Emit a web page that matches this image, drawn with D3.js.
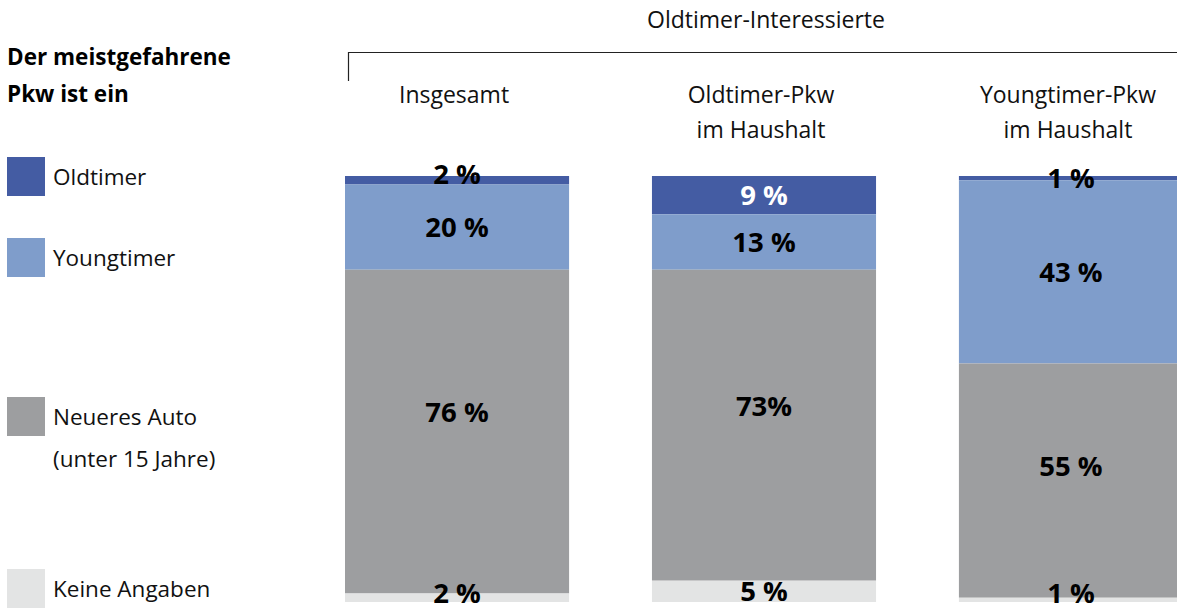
<!DOCTYPE html>
<html>
<head>
<meta charset="utf-8">
<script src="https://cdn.jsdelivr.net/npm/d3@7"></script>
<style>
  body { margin: 0; background: #fff; }
  svg { display: block; font-family: "Open Sans", Lato, sans-serif; }
</style>
</head>
<body>
<svg id="chart" width="1177" height="609"></svg>
<script>
// groups (columns) and their header lines
const groups = ["Insgesamt", "Oldtimer-Pkw im Haushalt", "Youngtimer-Pkw im Haushalt"];
const groupLines = [["Insgesamt"], ["Oldtimer-Pkw", "im Haushalt"], ["Youngtimer-Pkw", "im Haushalt"]];

// segments, top to bottom
const segments = ["Oldtimer", "Youngtimer", "Neueres Auto", "Keine Angaben"];
const legendLines = [["Oldtimer"], ["Youngtimer"], ["Neueres Auto", "(unter 15 Jahre)"], ["Keine Angaben"]];

// percentages per group
const oldtimer = [2, 9, 1];
const youngtimer = [20, 13, 43];
const neueres = [76, 73, 55];
const keine = [2, 5, 1];

// label texts as printed
const labelTexts = [
  ["2 %", "9 %", "1 %"],
  ["20 %", "13 %", "43 %"],
  ["76 %", "73%", "55 %"],
  ["2 %", "5 %", "1 %"]
];

const colors = ["#445ca3", "#7f9dcb", "#9d9ea0", "#e3e4e4"];

const svg = d3.select("#chart");

const rows = groups.map((g, i) => ({
  group: g,
  "Oldtimer": oldtimer[i],
  "Youngtimer": youngtimer[i],
  "Neueres Auto": neueres[i],
  "Keine Angaben": keine[i]
}));

const stack = d3.stack().keys(segments);
const series = stack(rows);

const x = d3.scaleBand()
  .domain(groups)
  .range([345, 1183])
  .paddingInner(0.27)
  .paddingOuter(0);

const y = d3.scaleLinear()
  .domain([0, 100])
  .range([176, 602]);

// bars
series.forEach((s, si) => {
  svg.append("g")
    .selectAll("rect")
    .data(s)
    .enter()
    .append("rect")
    .attr("x", d => x(d.data.group))
    .attr("y", d => y(d[0]))
    .attr("width", x.bandwidth())
    .attr("height", d => y(d[1]) - y(d[0]))
    .attr("fill", colors[si]);
});

// value labels
series.forEach((s, si) => {
  svg.append("g")
    .selectAll("text")
    .data(s)
    .enter()
    .append("text")
    .attr("x", d => x(d.data.group) + x.bandwidth() / 2)
    .attr("y", d => {
      const v = d[1] - d[0];
      if (v >= 50) return y(d[0]) + (y(d[1]) - y(d[0])) * 0.44;
      if (si === 0 && v === 2) return y(d[0]) - 2;
      if (si === 3) return Math.min((y(d[0]) + y(d[1])) / 2, 593);
      return (y(d[0]) + y(d[1])) / 2;
    })
    .attr("dy", "0.36em")
    .attr("text-anchor", "middle")
    .attr("font-size", 27.5)
    .attr("font-weight", 700)
    .attr("fill", (d, i) => (si === 0 && d[1] - d[0] > 5) ? "#fff" : "#000")
    .text((d, i) => labelTexts[si][i]);
});

// group headers
groupLines.forEach((lines, i) => {
  const cx = x(groups[i]) + x.bandwidth() / 2 - 3;
  lines.forEach((line, li) => {
    svg.append("text")
      .attr("x", cx)
      .attr("y", 103 + li * 35)
      .attr("text-anchor", "middle")
      .attr("font-size", 23)
      .attr("fill", "#111")
      .text(line);
  });
});

// bracket over all groups
svg.append("path")
  .attr("d", "M348.5,81V52.5H1177")
  .attr("fill", "none")
  .attr("stroke", "#222")
  .attr("stroke-width", 1.2);

svg.append("text")
  .attr("x", 766)
  .attr("y", 28)
  .attr("text-anchor", "middle")
  .attr("font-size", 23)
  .attr("fill", "#111")
  .text("Oldtimer-Interessierte");

// legend title
["Der meistgefahrene", "Pkw ist ein"].forEach((t, i) => {
  svg.append("text")
    .attr("x", 7)
    .attr("y", 65 + i * 37)
    .attr("font-size", 22.5)
    .attr("font-weight", 700)
    .attr("fill", "#000")
    .text(t);
});

// legend items
const legendTops = [157, 238, 397, 569];
segments.forEach((seg, i) => {
  const g = svg.append("g").attr("transform", `translate(7,${legendTops[i]})`);
  g.append("rect").attr("width", 38).attr("height", 39).attr("fill", colors[i]);
  legendLines[i].forEach((line, li) => {
    g.append("text")
      .attr("x", 46)
      .attr("y", 28 + li * 42)
      .attr("font-size", 22.5)
      .attr("fill", "#111")
      .text(line);
  });
});
</script>
</body>
</html>
